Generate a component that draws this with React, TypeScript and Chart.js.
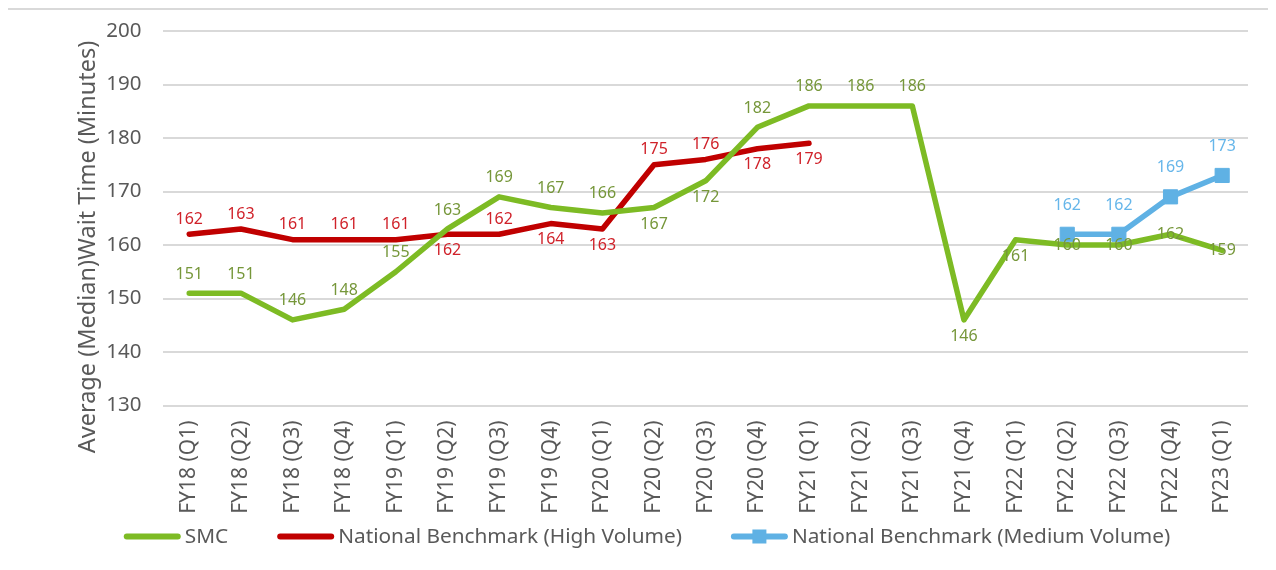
import React, { useEffect, useRef } from 'react';
import { Chart, registerables } from 'chart.js';

Chart.register(...registerables);

const categories = [
  'FY18 (Q1)', 'FY18 (Q2)', 'FY18 (Q3)', 'FY18 (Q4)',
  'FY19 (Q1)', 'FY19 (Q2)', 'FY19 (Q3)', 'FY19 (Q4)',
  'FY20 (Q1)', 'FY20 (Q2)', 'FY20 (Q3)', 'FY20 (Q4)',
  'FY21 (Q1)', 'FY21 (Q2)', 'FY21 (Q3)', 'FY21 (Q4)',
  'FY22 (Q1)', 'FY22 (Q2)', 'FY22 (Q3)', 'FY22 (Q4)',
  'FY23 (Q1)',
];

const smcValues = [151, 151, 146, 148, 155, 163, 169, 167, 166, 167, 172, 182, 186, 186, 186, 146, 161, 160, 160, 162, 159];
const highVolumeValues = [162, 163, 161, 161, 161, 162, 162, 164, 163, 175, 176, 178, 179, null, null, null, null, null, null, null, null];
const mediumVolumeValues = [null, null, null, null, null, null, null, null, null, null, null, null, null, null, null, null, null, 162, 162, 169, 173];

// label placement relative to the point: t = above, b = below, c = centered
const smcLabelPos = ['t', 't', 't', 't', 't', 't', 't', 't', 't', 'b', 'b', 't', 't', 't', 't', 'b', 'b', 'c', 'c', 'c', 'c'];
const highLabelPos = ['t', 't', 't', 't', 't', 'b', 't', 'b', 'b', 't', 't', 'b', 'b'];
const mediumLabelPos = ['t', 't', 't', 't', 't', 't', 't', 't', 't', 't', 't', 't', 't', 't', 't', 't', 't', 't', 't', 't', 't'];

const yMin = 130;
const yMax = 200;
const yStep = 10;

const seriesNames = ['SMC', 'National Benchmark (High Volume)', 'National Benchmark (Medium Volume)'];
const yTitle = 'Average (Median)Wait Time (Minutes)';

const FONT = '"Noto Sans", "Open Sans", sans-serif';
const AXIS_TEXT = '#595959';
const GREEN = '#7dbb24';
const RED = '#c00000';
const BLUE = '#5fb1e4';

const dataLabelPlugin = {
  id: 'dataLabels',
  afterDatasetsDraw(chart: any) {
    const ctx = chart.ctx;
    ctx.save();
    ctx.font = `16px ${FONT}`;
    ctx.textAlign = 'center';
    ctx.textBaseline = 'middle';
    chart.data.datasets.forEach((ds: any, i: number) => {
      const meta = chart.getDatasetMeta(i);
      const cfg = ds.labelCfg;
      meta.data.forEach((pt: any, j: number) => {
        const v = ds.data[j];
        if (v == null) return;
        const pos = cfg.pos[j];
        const dy = pos === 't' ? -cfg.above : pos === 'b' ? cfg.below : 0;
        ctx.fillStyle = cfg.color;
        ctx.fillText(String(v), pt.x, pt.y + dy);
      });
    });
    ctx.restore();
  },
};

const yTitlePlugin = {
  id: 'yTitle',
  afterDraw(chart: any) {
    const ctx = chart.ctx;
    ctx.save();
    ctx.font = `23.5px ${FONT}`;
    ctx.fillStyle = AXIS_TEXT;
    ctx.textAlign = 'center';
    ctx.textBaseline = 'middle';
    ctx.translate(80, 237);
    ctx.rotate(-Math.PI / 2);
    ctx.fillText(yTitle, 0, 0);
    ctx.restore();
  },
};

const legendPlugin = {
  id: 'customLegend',
  afterDraw(chart: any) {
    const ctx = chart.ctx;
    ctx.save();
    ctx.font = `20.8px ${FONT}`;
    ctx.textBaseline = 'middle';
    ctx.textAlign = 'left';
    const lineLen = 57;
    const textGap = 4;
    const itemGap = 49;
    const widths = chart.data.datasets.map((ds: any) => lineLen + textGap + ctx.measureText(ds.label).width);
    const total = widths.reduce((a: number, b: number) => a + b, 0) + itemGap * (widths.length - 1);
    let x = 639 - total / 2;
    const y = chart.height - 25.5;
    chart.data.datasets.forEach((ds: any, i: number) => {
      ctx.strokeStyle = ds.borderColor;
      ctx.lineWidth = 6;
      ctx.lineCap = 'round';
      ctx.beginPath();
      ctx.moveTo(x + 3, y);
      ctx.lineTo(x + lineLen - 3, y);
      ctx.stroke();
      if (ds.pointStyle === 'rect') {
        ctx.fillStyle = ds.borderColor;
        ctx.fillRect(x + lineLen / 2 - 7, y - 7, 14, 14);
      }
      ctx.fillStyle = AXIS_TEXT;
      ctx.fillText(ds.label, x + lineLen + textGap, y + 1);
      x += widths[i] + itemGap;
    });
    ctx.restore();
  },
};

export default function App() {
  const canvasRef = useRef<HTMLCanvasElement | null>(null);

  useEffect(() => {
    if (!canvasRef.current) return;
    const chart = new Chart(canvasRef.current, {
      type: 'line',
      data: {
        labels: categories,
        datasets: [
          {
            label: seriesNames[0],
            data: smcValues,
            borderColor: GREEN,
            backgroundColor: GREEN,
            borderWidth: 5.5,
            pointRadius: 0,
            borderJoinStyle: 'round',
            borderCapStyle: 'round',
            tension: 0,
            labelCfg: { pos: smcLabelPos, color: '#76973a', above: 19, below: 17 },
          } as any,
          {
            label: seriesNames[1],
            data: highVolumeValues,
            borderColor: RED,
            backgroundColor: RED,
            borderWidth: 5.5,
            pointRadius: 0,
            borderJoinStyle: 'round',
            borderCapStyle: 'round',
            tension: 0,
            labelCfg: { pos: highLabelPos, color: '#d0222a', above: 15, below: 16 },
          } as any,
          {
            label: seriesNames[2],
            data: mediumVolumeValues,
            borderColor: BLUE,
            backgroundColor: BLUE,
            borderWidth: 5.5,
            pointStyle: 'rect',
            pointRadius: 10,
            pointBorderWidth: 1,
            pointBorderColor: BLUE,
            pointBackgroundColor: BLUE,
            borderJoinStyle: 'round',
            borderCapStyle: 'round',
            tension: 0,
            labelCfg: { pos: mediumLabelPos, color: '#66b6ea', above: 29, below: 20 },
          } as any,
        ],
      },
      options: {
        animation: false,
        responsive: false,
        maintainAspectRatio: false,
        layout: { padding: { left: 0, right: 20, top: 21, bottom: 0 } },
        plugins: {
          legend: { display: false },
          tooltip: { enabled: false },
          title: { display: false },
        },
        scales: {
          x: {
            type: 'category',
            offset: true,
            grid: { display: false, drawTicks: false },
            border: { display: false },
            ticks: {
              autoSkip: false,
              minRotation: 90,
              maxRotation: 90,
              padding: 15,
              color: AXIS_TEXT,
              font: { family: FONT, size: 21 },
            },
            afterFit(scale: any) {
              scale.height = 156.5;
              scale.paddingLeft = 0;
              scale.paddingRight = 0;
            },
          },
          y: {
            min: yMin,
            max: yMax,
            grid: { color: '#d9d9d9', lineWidth: 2, drawTicks: false },
            border: { display: false },
            ticks: {
              stepSize: yStep,
              padding: 22,
              color: AXIS_TEXT,
              font: { family: FONT, size: 20.5 },
            },
            afterFit(scale: any) {
              scale.width = 155.4;
              scale.paddingTop = 0;
              scale.paddingBottom = 0;
            },
          },
        },
      },
      plugins: [dataLabelPlugin, yTitlePlugin, legendPlugin],
    } as any);
    return () => chart.destroy();
  }, []);

  return (
    <div
      style={{
        position: 'relative',
        marginLeft: -2,
        width: 1262,
        height: 554,
        boxSizing: 'border-box',
        borderTop: '2px solid #d9d9d9',
        borderLeft: '2px solid #d9d9d9',
        background: '#ffffff',
      }}
    >
      <canvas ref={canvasRef} width={1260} height={552} style={{ display: 'block' }} />
    </div>
  );
}
